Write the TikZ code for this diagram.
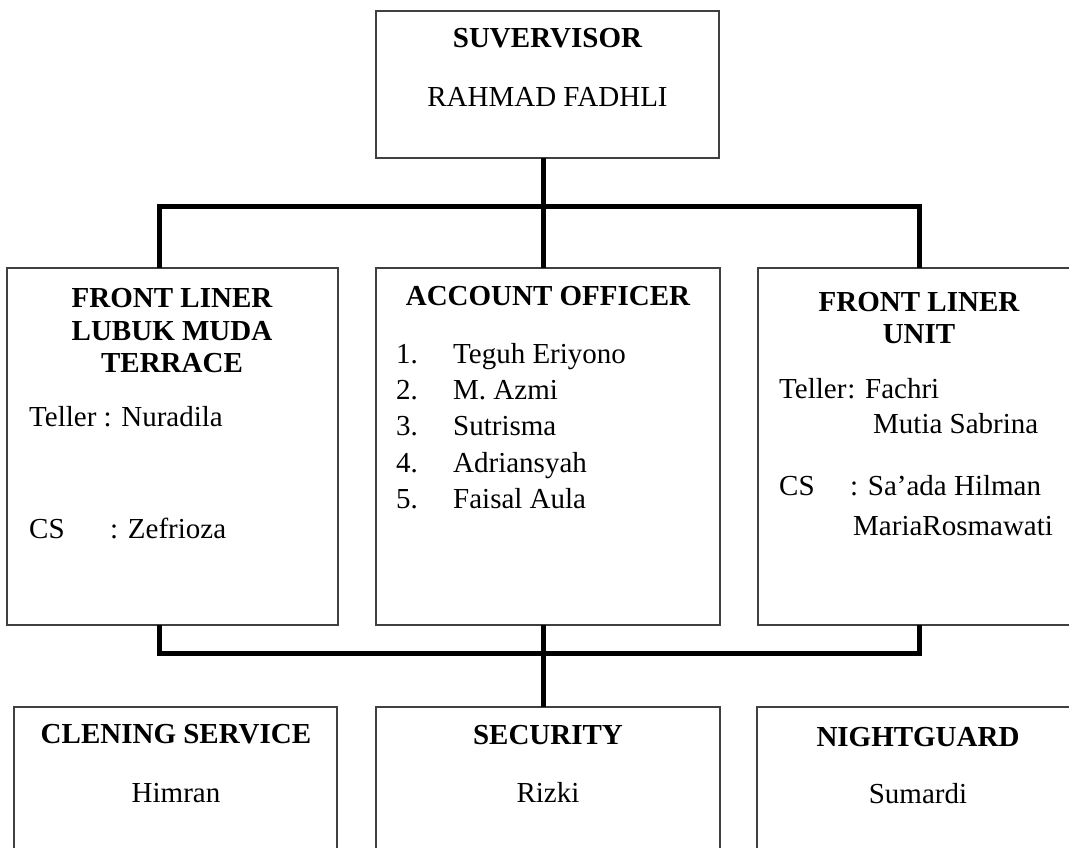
\documentclass[tikz,border=0pt]{standalone}
\usepackage{fontspec}
\setmainfont{Liberation Serif}
\newcommand\myfs{\fontsize{29}{33}\selectfont}
\tikzset{
  box/.style={draw=black!75, line width=1.3pt, inner sep=0pt, outer sep=0pt, rectangle},
  conn/.style={draw=black, line width=5pt},
  txt/.style={inner sep=0pt, font=\myfs, anchor=base west},
  ctxt/.style={inner sep=0pt, font=\myfs, anchor=base},
  hd/.style={inner sep=0pt, font=\myfs\bfseries, anchor=base},
}
\begin{document}
\begin{tikzpicture}[x=1pt,y=-1pt]
\useasboundingbox (0,0) rectangle (1069,848);
\clip (0,0) rectangle (1069,848);
\fill[white] (0,0) rectangle (1069,848);

% boxes
\node[box, minimum width=343pt, minimum height=147pt] (sup) at (547.5,84.5) {};
\node[box, minimum width=331pt, minimum height=357pt] (fl) at (172.5,446.5) {};
\node[box, minimum width=344pt, minimum height=357pt] (ao) at (548,446.5) {};
\node[box, minimum width=316pt, minimum height=357pt] (fr) at (916,446.5) {};
\node[box, minimum width=323pt, minimum height=150pt] (cln) at (175.5,782) {};
\node[box, minimum width=344pt, minimum height=150pt] (sec) at (548,782) {};
\node[box, minimum width=316pt, minimum height=150pt] (ngt) at (915,782) {};

% junctions
\coordinate (jt) at (543,207);
\coordinate (jl) at (159,207);
\coordinate (jr) at (919,207);
\coordinate (bt) at (543,653);
\coordinate (bl) at (159,653);
\coordinate (br) at (919,653);

% connectors
\draw[conn] (jt |- sup.south) -- (jt |- ao.north);
\draw[conn] (jl |- fl.north) -- (jl) -- (jr) -- (jr |- fr.north);
\draw[conn] (bl |- fl.south) -- (bl) -- (br) -- (br |- fr.south);
\draw[conn] (bt |- ao.south) -- (bt |- sec.north);

% top box text
\node[hd] (supt) at (547.5,48) {SUVERVISOR};
\node[ctxt] (supn) at (547.5,107) {RAHMAD FADHLI};

% left box
\node[hd] (fl1) at (172,307) {FRONT LINER};
\node[hd] (fl2) at (172,340) {LUBUK MUDA};
\node[hd] (fl3) at (172,372) {TERRACE};
\node[txt] (flt) at (29,426) {Teller : Nuradila};
\node[txt] (flc) at (29,538) {CS};
\node[txt] (flcn) at (110,538) {: Zefrioza};

% middle box
\node[hd] (aot) at (548,305) {ACCOUNT OFFICER};
\foreach \n/\name/\y in {1/Teguh Eriyono/363, 2/M. Azmi/399, 3/Sutrisma/435, 4/Adriansyah/472, 5/Faisal Aula/508}{
  \node[txt] (aon\n) at (396,\y) {\n.};
  \node[txt] (aoname\n) at (453,\y) {\name};
}

% right box
\node[hd] (fr1) at (919,311) {FRONT LINER};
\node[hd] (fr2) at (919,343) {UNIT};
\node[txt] (frt) at (779,398) {Teller\hspace{1pt}: Fachri};
\node[txt] (frt2) at (873,433) {Mutia Sabrina};
\node[txt] (frc) at (779,495) {CS};
\node[txt] (frcn) at (850,495) {: Sa’ada Hilman};
\node[txt] (frcn2) at (853,535) {MariaRosmawati};

% bottom boxes
\node[hd] (clnt) at (176,743) {CLENING SERVICE};
\node[ctxt] (clnn) at (176,802) {Himran};
\node[hd] (sect) at (548,744) {SECURITY};
\node[ctxt] (secn) at (548,802) {Rizki};
\node[hd] (ngtt) at (918,746) {NIGHTGUARD};
\node[ctxt] (ngtn) at (918,803) {Sumardi};
\end{tikzpicture}
\end{document}
